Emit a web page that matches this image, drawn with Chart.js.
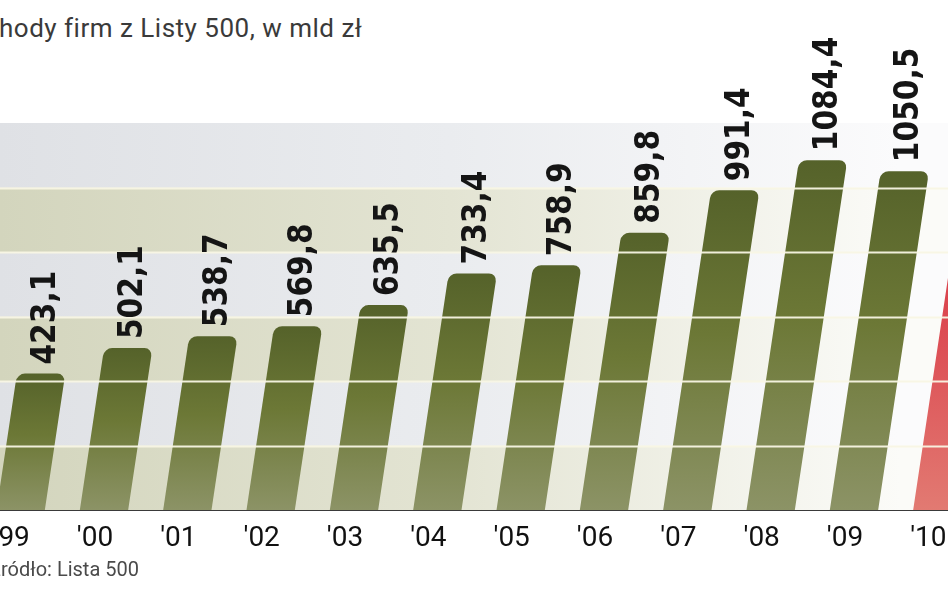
<!DOCTYPE html>
<html>
<head>
<meta charset="utf-8">
<script src="https://cdn.jsdelivr.net/npm/chart.js@4.4.1/dist/chart.umd.min.js"></script>
<style>
  html, body { margin:0; padding:0; background:#fff; }
  #wrap { position:relative; width:948px; height:593px; overflow:hidden; background:#fff; }
  #title { position:absolute; top:13px; font-family:Roboto, sans-serif; font-size:26px; letter-spacing:0.5px; color:#3a3a3a; white-space:nowrap; }
  #source { position:absolute; top:557px; font-family:Roboto, sans-serif; font-size:20px; color:#4a4a4a; white-space:nowrap; }
  #cv { position:absolute; left:-40px; top:0; }
</style>
</head>
<body>
<div id="wrap">
  <div id="title">Przychody firm z Listy 500, w mld zł</div>
  <canvas id="cv" width="1060" height="593"></canvas>
  <div id="source">Źródło: Lista 500</div>
</div>
<script>
// ---- data ----
const categories = ["'99", "'00", "'01", "'02", "'03", "'04", "'05", "'06", "'07", "'08", "'09", "'10"];
const revenues = [423.1, 502.1, 538.7, 569.8, 635.5, 733.4, 758.9, 859.8, 991.4, 1084.4, 1050.5, 1150.0];
const highlightIndex = [11];
const yTicks = [0, 200, 400, 600, 800, 1000, 1200];

// ---- crop the hidden prefixes like the reference ----
(function(){
  const c = document.createElement('canvas').getContext('2d');
  c.font = '26px Roboto';
  document.getElementById('title').style.left = (-c.measureText('Przyc').width - 5 * 0.5 - 1) + 'px';
  c.font = '20px Roboto';
  document.getElementById('source').style.left = (-c.measureText('Ź').width + 1) + 'px';
})();

const SKEW = 0.15;

const bandsPlugin = {
  id: 'bands',
  beforeDatasetsDraw(chart) {
    const {ctx, chartArea} = chart;
    const y = chart.scales.y;
    ctx.save();
    for (let i = 0; i < yTicks.length - 1; i++) {
      const y0 = y.getPixelForValue(yTicks[i]);
      const y1 = y.getPixelForValue(yTicks[i + 1]);
      const g = ctx.createLinearGradient(40, 0, 940, 0);
      if (i % 2 === 0) { g.addColorStop(0, '#d3d5bd'); g.addColorStop(0.5, '#e3e4d3'); g.addColorStop(1, '#fbfbf8'); }
      else { g.addColorStop(0, '#dfe1e5'); g.addColorStop(0.5, '#eaecef'); g.addColorStop(1, '#fbfbfc'); }
      ctx.fillStyle = g;
      ctx.fillRect(chartArea.left, y1, chartArea.right - chartArea.left, y0 - y1);
    }
    ctx.restore();
    // skew bars
    const base = y.getPixelForValue(0);
    ctx.save();
    ctx.transform(1, 0, -SKEW, 1, SKEW * base, 0);
  },
  afterDatasetsDraw(chart) {
    const {ctx, chartArea} = chart;
    ctx.restore();
    const y = chart.scales.y;
    const base = y.getPixelForValue(0);
    // grid lines over bars
    ctx.save();
    ctx.strokeStyle = 'rgba(248,246,228,0.95)';
    ctx.lineWidth = 2;
    for (let i = 1; i < yTicks.length - 1; i++) {
      const py = Math.round(y.getPixelForValue(yTicks[i])) + 0.5;
      ctx.beginPath();
      ctx.moveTo(chartArea.left, py);
      ctx.lineTo(chartArea.right, py);
      ctx.stroke();
    }
    ctx.restore();
    // value labels
    const meta = chart.getDatasetMeta(0);
    ctx.save();
    ctx.font = 'bold 33px "Liberation Sans Narrow", "DejaVu Sans Condensed", sans-serif';
    ctx.fillStyle = '#151515';
    ctx.textAlign = 'left';
    ctx.textBaseline = 'middle';
    meta.data.forEach((el, i) => {
      const xTop = el.x + SKEW * (base - el.y) + 5;
      if (xTop > 40 + 948 - 10) return; // outside the visible frame
      const txt = revenues[i].toFixed(1).replace('.', ',');
      ctx.save();
      ctx.translate(xTop, el.y - 9);
      ctx.rotate(-Math.PI / 2);
      ctx.fillText(txt, 0, 0);
      ctx.restore();
    });
    ctx.restore();
  }
};

function barFill(context) {
  const chart = context.chart;
  const {chartArea} = chart;
  if (!chartArea) return '#6b7535';
  const y = chart.scales.y;
  const v = revenues[context.dataIndex];
  const top = y.getPixelForValue(v);
  const bottom = y.getPixelForValue(0);
  const g = chart.ctx.createLinearGradient(0, top, 0, bottom);
  if (highlightIndex.includes(context.dataIndex)) {
    g.addColorStop(0, '#d42c3e');
    g.addColorStop(0.5, '#dc4a52');
    g.addColorStop(1, '#e27a72');
  } else {
    g.addColorStop(0, '#55622a');
    g.addColorStop(0.45, '#6c7836');
    g.addColorStop(1, '#8c9366');
  }
  return g;
}

new Chart(document.getElementById('cv'), {
  type: 'bar',
  data: {
    labels: categories,
    datasets: [{
      data: revenues,
      backgroundColor: barFill,
      borderWidth: 0,
      borderRadius: {topLeft: 8, topRight: 8, bottomLeft: 0, bottomRight: 0},
      borderSkipped: 'bottom',
      barPercentage: 0.58,
      categoryPercentage: 1.0,
      clip: false
    }]
  },
  options: {
    responsive: false,
    animation: false,
    layout: { padding: { left: 19, right: 41, top: 123, bottom: 0 } },
    plugins: { legend: { display: false }, tooltip: { enabled: false }, title: { display: false } },
    scales: {
      x: {
        grid: { display: false },
        border: { display: true, color: '#3a3a3a', width: 2 },
        ticks: {
          color: '#111',
          font: { family: 'Roboto', size: 28 },
          padding: 4,
          labelOffset: -9,
          autoSkip: false,
          maxRotation: 0
        },
        afterFit(scale) { scale.height = 83; }
      },
      y: {
        display: false,
        min: 0,
        max: 1200,
        ticks: { stepSize: 200 }
      }
    }
  },
  plugins: [bandsPlugin]
});
</script>
</body>
</html>
